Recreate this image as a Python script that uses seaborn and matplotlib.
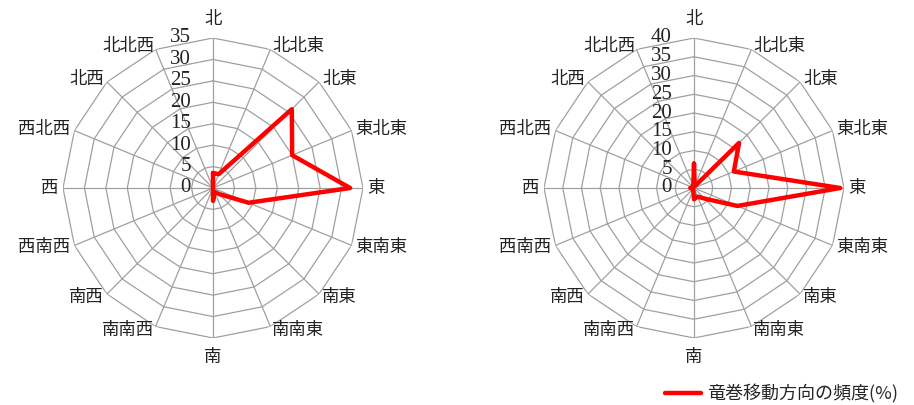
import numpy as np
import pandas as pd
import matplotlib
matplotlib.use("Agg")
import matplotlib.pyplot as plt
import seaborn as sns

directions = ["北", "北北東", "北東", "東北東", "東", "東南東", "南東", "南南東",
              "南", "南南西", "南西", "西南西", "西", "西北西", "北西", "北北西"]
left_values = [3.5, 3.5, 26, 20, 32, 9, 2, 1, 3, 0, 0, 0, 0, 0, 0, 0]
right_values = [6.5, 0.5, 17, 11.5, 39, 12.5, 4, 2.5, 3, 0.5, 0.5, 0.5, 1, 0.5, 0.5, 0.5]
left_ticks = [0, 5, 10, 15, 20, 25, 30, 35]
right_ticks = [0, 5, 10, 15, 20, 25, 30, 35, 40]
legend_label = "竜巻移動方向の頻度(%)"

sns.set_style("white")
plt.rcParams['font.family'] = ['Noto Sans CJK JP', 'DejaVu Sans']

W, H = 914, 405
fig = plt.figure(figsize=(W / 100, H / 100), dpi=100)

angles = np.deg2rad(np.arange(16) * 22.5)
grid_color = "#a0a0a0"


def radar(ax, values, ticks):
    rmax = ticks[-1]
    ax.set_theta_zero_location("N")
    ax.set_theta_direction(-1)
    ax.grid(False)
    ax.spines["polar"].set_visible(False)
    ax.set_xticks([])
    ax.set_yticks([])
    ax.set_ylim(0, rmax)
    closed = np.append(angles, angles[0])
    for r in ticks[1:]:
        ax.plot(closed, [r] * len(closed), color=grid_color, lw=0.9, zorder=1)
    for a in angles:
        ax.plot([a, a], [0, rmax], color=grid_color, lw=0.9, zorder=1)
    df = pd.DataFrame({"theta": np.append(angles, 2 * np.pi),
                       "value": list(values) + [values[0]]})
    sns.lineplot(data=df, x="theta", y="value", sort=False, ax=ax,
                 color="#ff0000", lw=3.2, zorder=3, label=legend_label)
    ax.set_xlabel("")
    ax.set_ylabel("")
    if ax.get_legend() is not None:
        ax.get_legend().remove()
    for t in ticks:
        ax.annotate(str(t), xy=(0, t), xytext=(-16, 0), textcoords="offset points",
                    ha="right", va="center", fontsize=15,
                    family=["Liberation Serif"], color="#222222", annotation_clip=False)
    for a, lab in zip(angles, directions):
        s, c = np.sin(a), np.cos(a)
        if abs(s) < 0.1:
            ha = "center"
            va = "bottom" if c > 0 else "top"
            off = (0, 7 if c > 0 else -7)
        else:
            ha = "left" if s > 0 else "right"
            va = "center"
            off = (3 * s, 3 * c)
        ax.annotate(lab, xy=(a, rmax), xytext=off, textcoords="offset points",
                    ha=ha, va=va, fontsize=12.5, color="#222222",
                    annotation_clip=False)


def make_ax(cx, cy, r=150):
    return fig.add_axes([(cx - r) / W, (H - cy - r) / H, 2 * r / W, 2 * r / H],
                        projection="polar")


ax1 = make_ax(213, 188)
radar(ax1, left_values, left_ticks)
ax2 = make_ax(694, 188)
radar(ax2, right_values, right_ticks)

handles = [ax2.lines[-1]]
fig.legend(handles, [legend_label], loc="center", bbox_to_anchor=(0.855, 0.027),
           frameon=False, fontsize=13, handlelength=2.0, handletextpad=0.3)

fig.savefig("out.png", dpi=100, facecolor="white")
